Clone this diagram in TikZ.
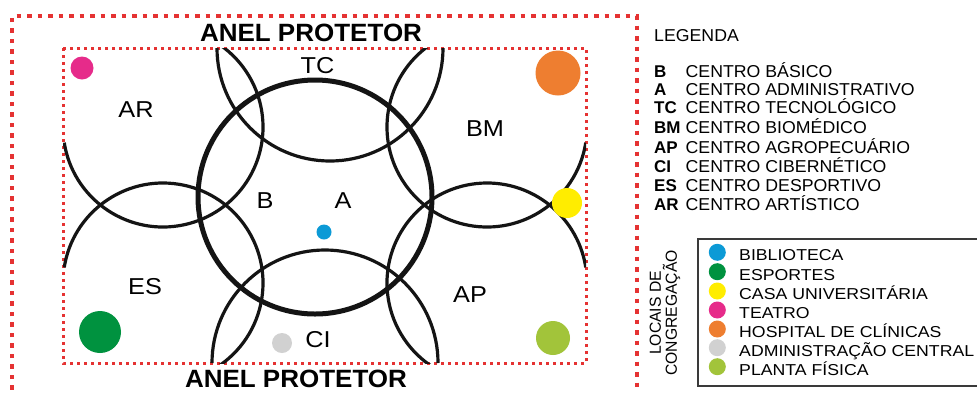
\documentclass[tikz,border=0pt]{standalone}
\usepackage{fontspec}
\setmainfont{Liberation Sans}
\newfontfamily\labfont[FakeStretch=1.1]{Liberation Sans}
\newfontfamily\anelfont[FakeStretch=1.04]{Liberation Sans}
\newfontfamily\legfont[FakeStretch=1.03]{Liberation Sans}
\newfontfamily\abfont{Liberation Sans}
\newfontfamily\boxfont[FakeStretch=1.12]{Liberation Sans}
\newfontfamily\rotfont[FakeStretch=0.98]{Liberation Sans}
\definecolor{redd}{HTML}{E53232}
\definecolor{cblue}{HTML}{0C9AD6}
\definecolor{cgreen}{HTML}{00923F}
\definecolor{cyellow}{HTML}{FFED00}
\definecolor{cpink}{HTML}{E62B8A}
\definecolor{corange}{HTML}{EE7E30}
\definecolor{cgray}{HTML}{D1D1D1}
\definecolor{clime}{HTML}{A2C43A}
\definecolor{boxgray}{HTML}{3A3A3A}
\begin{document}
\begin{tikzpicture}[x=1pt,y=1pt,
  outerb/.style={draw=redd,line width=4.3pt,dash pattern=on 4.5pt off 6pt},
  innerb/.style={draw=redd,line width=3pt,dash pattern=on 3pt off 4pt},
  arcline/.style={line width=3.2pt,black!92},
  bigcirc/.style={line width=5pt,black!92},
  lab/.style={anchor=base,inner sep=0pt,font=\labfont\fontsize{23}{26}\selectfont},
  anel/.style={anchor=base,inner sep=0pt,font=\anelfont\bfseries\fontsize{25}{28}\selectfont},
  legab/.style={anchor=base west,inner sep=0pt,font=\abfont\bfseries\fontsize{17}{20}\selectfont},
  legtx/.style={anchor=base west,inner sep=0pt,font=\legfont\fontsize{17.2}{20}\selectfont},
  boxtx/.style={anchor=base west,inner sep=0pt,font=\boxfont\fontsize{15.8}{18}\selectfont},
  legdot/.style={inner sep=0pt,minimum size=17pt,circle}
]
\useasboundingbox (0,0) rectangle (977,-392);
\fill[white] (0,0) rectangle (977,-392);

% protective rings (borders)
\draw[outerb] (12,-400) -- (12,-16) -- (637,-16) -- (637,-400);
\draw[innerb] (63,-48) rectangle (586,-363);

% outer arcs, clipped to inner rectangle
\begin{scope}
\clip (63,-48) rectangle (586,-363);
\draw[arcline] (163,-127) ++(189:100) arc[start angle=189,end angle=418,radius=100pt]; % AR
\draw[arcline] (163,-283) ++(171:100) arc[start angle=171,end angle=-58,radius=100pt]; % ES
\draw[arcline] (487,-127) ++(122:100) arc[start angle=122,end angle=351,radius=100pt]; % BM
\draw[arcline] (487,-283) ++(9:100) arc[start angle=9,end angle=238,radius=100pt]; % AP
\draw[arcline] (330,-48) ++(180:113) arc[start angle=180,end angle=360,radius=113pt]; % TC
\draw[arcline] (325,-363) ++(0:113) arc[start angle=0,end angle=180,radius=113pt]; % CI
\end{scope}

% central circle
\draw[bigcirc] (315,-197) circle[radius=117pt];

% gathering places
\fill[cpink] (82,-68) circle[radius=11.5pt];
\fill[corange] (558,-73) circle[radius=22.5pt];
\fill[cyellow] (567,-203) circle[radius=15pt];
\fill[cblue] (324,-232) circle[radius=7.5pt];
\fill[cgreen] (100,-332) circle[radius=21pt];
\fill[cgray] (282,-343) circle[radius=10pt];
\fill[clime] (553,-338) circle[radius=17pt];

% labels
\node[anel] (anelT) at (311,-41.1) {ANEL PROTETOR};
\node[anel] (anelB) at (296,-387.1) {ANEL PROTETOR};
\node[lab] (lTC) at (317.5,-73.2) {TC};
\node[lab] (lAR) at (136,-117.2) {AR};
\node[lab] (lBM) at (485,-136.2) {BM};
\node[lab] (lB) at (265,-208.2) {B};
\node[lab] (lA) at (343,-208.2) {A};
\node[lab] (lES) at (145,-294.2) {ES};
\node[lab] (lAP) at (470,-302.2) {AP};
\node[lab] (lCI) at (318,-347.7) {CI};

% legend
\node[legtx] (leg) at (654,-41.7) {LEGENDA};
\foreach \ab/\tx/\yy [count=\i] in {B/CENTRO BÁSICO/71,A/CENTRO ADMINISTRATIVO/88.8,TC/CENTRO TECNOLÓGICO/107.5,BM/CENTRO BIOMÉDICO/127.5,AP/CENTRO AGROPECUÁRIO/146.8,CI/CENTRO CIBERNÉTICO/165.8,ES/CENTRO DESPORTIVO/184.8,AR/CENTRO ARTÍSTICO/204}{
  \node[legab] (ab\i) at (654,-\yy-6.2) {\ab};
  \node[legtx] (tx\i) at (685.5,-\yy-6.2) {\tx};
}

% gathering legend box
\draw[boxgray,line width=2.5pt] (990,-239) -- (698,-239) -- (698,-386) -- (990,-386);
\node[rotate=90,align=center,inner sep=0pt,font=\rotfont\fontsize{16}{16}\selectfont] (rot) at (665,-313) {LOCAIS DE\\CONGREGAÇÃO};
\foreach \col/\tx/\yy [count=\i] in {cblue/BIBLIOTECA/252.3,cgreen/ESPORTES/271.7,cyellow/CASA UNIVERSITÁRIA/291,cpink/TEATRO/310,corange/HOSPITAL DE CLÍNICAS/329,cgray/ADMINISTRAÇÃO CENTRAL/347.7,clime/PLANTA FÍSICA/366.7}{
  \node[legdot,fill=\col] (d\i) at (717.3,-\yy) {};
  \node[boxtx] (b\i) at (739,-\yy-8.4) {\tx};
}
\end{tikzpicture}
\end{document}
